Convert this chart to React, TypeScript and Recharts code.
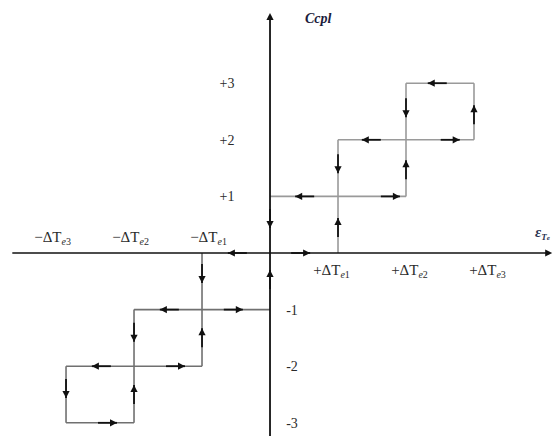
import { ComposedChart, XAxis, YAxis, ReferenceLine, Scatter } from "recharts";

const W = 556;
const H = 436;

// error axis (x) and coupling level (y), fixed so both axes cross in the middle
const X_DOMAIN: [number, number] = [-3.971, 4.206];
const Y_DOMAIN: [number, number] = [-3.233, 4.47];

// hysteresis loop edges as [x1, y1, x2, y2]
const upperLoop = [
  [0, 1, 2, 1],
  [1, 0, 1, 2],
  [2, 1, 2, 3],
  [1, 2, 3, 2],
  [3, 2, 3, 3],
  [2, 3, 3, 3],
];
const lowerLoop = [
  [-2, -1, 0, -1],
  [-1, 0, -1, -2],
  [-2, -1, -2, -3],
  [-3, -2, -1, -2],
  [-3, -2, -3, -3],
  [-3, -3, -2, -3],
];

// direction arrows along the loops (tip position + heading)
const upperArrows = [
  { x: 0.37, y: 1, dir: "l" },
  { x: 1.91, y: 1, dir: "r" },
  { x: 1, y: 0.62, dir: "u" },
  { x: 1, y: 1.41, dir: "d" },
  { x: 2, y: 1.64, dir: "u" },
  { x: 2, y: 2.4, dir: "d" },
  { x: 1.35, y: 2, dir: "l" },
  { x: 2.79, y: 2, dir: "r" },
  { x: 3, y: 2.61, dir: "u" },
  { x: 2.32, y: 3, dir: "l" },
];
const originArrows = [
  { x: 0, y: 0.44, dir: "d" },
  { x: -0.62, y: 0, dir: "l" },
  { x: 0.59, y: 0, dir: "r" },
  { x: 0, y: -0.3, dir: "u" },
];
const lowerArrows = [
  { x: -1, y: -0.53, dir: "d" },
  { x: -1.62, y: -1, dir: "l" },
  { x: -0.4, y: -1, dir: "r" },
  { x: -2, y: -1.57, dir: "d" },
  { x: -1, y: -1.33, dir: "u" },
  { x: -2.62, y: -2, dir: "l" },
  { x: -1.25, y: -2, dir: "r" },
  { x: -3, y: -2.56, dir: "d" },
  { x: -2, y: -2.33, dir: "u" },
  { x: -2.25, y: -3, dir: "r" },
];

// axis ends
const xAxisEnds = [-3.79, 4.15];
const yAxisEnds = [-3.233, 4.24];
const axisTips = [
  { x: xAxisEnds[1], y: 0, dir: "r" },
  { x: 0, y: yAxisEnds[1], dir: "u" },
];

// tick labels
const xTickValues = [-3, -2, -1, 1, 2, 3];
const xTickSubs = ["3", "2", "1", "1", "2", "3"];
const yTickValues = [3, 2, 1, -1, -2, -3];
const yTickTexts = ["+3", "+2", "+1", "-1", "-2", "-3"];

const xTicks = xTickValues.map((v, i) => ({ x: v, y: 0, sub: xTickSubs[i] }));
const yTicks = yTickValues.map((v, i) => ({ x: 0, y: v, text: yTickTexts[i] }));

const SERIF = "Liberation Serif, Times New Roman, serif";

function arrowShape(tail: number) {
  // eslint-disable-next-line @typescript-eslint/no-explicit-any
  return (p: any) => {
    const { cx, cy } = p;
    const dir = p.payload.dir;
    const hl = 7;
    const hw = 3.6;
    let head = "";
    let tx = cx;
    let ty = cy;
    if (dir === "l") {
      head = `${cx},${cy} ${cx + hl},${cy - hw} ${cx + hl},${cy + hw}`;
      tx = cx + hl + tail;
    } else if (dir === "r") {
      head = `${cx},${cy} ${cx - hl},${cy - hw} ${cx - hl},${cy + hw}`;
      tx = cx - hl - tail;
    } else if (dir === "u") {
      head = `${cx},${cy} ${cx - hw},${cy + hl} ${cx + hw},${cy + hl}`;
      ty = cy + hl + tail;
    } else {
      head = `${cx},${cy} ${cx - hw},${cy - hl} ${cx + hw},${cy - hl}`;
      ty = cy - hl - tail;
    }
    return (
      <g>
        {tail > 0 && (
          <line x1={cx} y1={cy} x2={tx} y2={ty} stroke="#111" strokeWidth={1.8} />
        )}
        <polygon points={head} fill="#111" />
      </g>
    );
  };
}

// labels sit a little wider apart than the ticks they name
// eslint-disable-next-line @typescript-eslint/no-explicit-any
function XTickLabel(p: any) {
  const { cx, cy, payload } = p;
  const v = payload.x;
  const neg = v < 0;
  const dx = Math.sign(v) * (10 * Math.abs(v) - 16.5);
  return (
    <text
      x={cx + dx}
      y={neg ? cy - 11 : cy + 22}
      textAnchor="middle"
      fontFamily={SERIF}
      fontSize={15}
      fill="#2a2a2a"
    >
      {neg ? "\u2212" : "+"}ΔT
      <tspan fontSize={10} dy={3} fontStyle="italic">e</tspan>
      <tspan fontSize={10}>{payload.sub}</tspan>
    </text>
  );
}

// eslint-disable-next-line @typescript-eslint/no-explicit-any
function YTickLabel(p: any) {
  const { cx, cy, payload } = p;
  const neg = payload.y < 0;
  return (
    <text
      x={neg ? cx + 22 : cx - 43}
      y={cy + 5}
      textAnchor="middle"
      fontFamily={SERIF}
      fontSize={14}
      fill="#2a2a2a"
    >
      {payload.text}
    </text>
  );
}

function edgeLines(edges: number[][], color: string) {
  return edges.map((e, i) => (
    <ReferenceLine
      key={color + i}
      segment={[
        { x: e[0], y: e[1] },
        { x: e[2], y: e[3] },
      ]}
      stroke={color}
      strokeWidth={1.6}
    />
  ));
}

export default function App() {
  return (
    <div style={{ position: "absolute", left: 0, top: 0, background: "#fff" }}>
      <ComposedChart width={W} height={H} margin={{ top: 0, right: 0, bottom: 0, left: 0 }}>
        <XAxis dataKey="x" type="number" domain={X_DOMAIN} allowDataOverflow hide />
        <YAxis dataKey="y" type="number" domain={Y_DOMAIN} allowDataOverflow hide />
        {edgeLines(upperLoop, "#9a9a9a")}
        {edgeLines(lowerLoop, "#707070")}
        <ReferenceLine
          segment={[
            { x: xAxisEnds[0], y: 0 },
            { x: xAxisEnds[1] - 0.08, y: 0 },
          ]}
          stroke="#111"
          strokeWidth={1.6}
        />
        <ReferenceLine
          segment={[
            { x: 0, y: yAxisEnds[0] },
            { x: 0, y: yAxisEnds[1] - 0.1 },
          ]}
          stroke="#111"
          strokeWidth={1.8}
        />
        <Scatter data={upperArrows} shape={arrowShape(12)} isAnimationActive={false} />
        <Scatter data={lowerArrows} shape={arrowShape(12)} isAnimationActive={false} />
        <Scatter data={originArrows} shape={arrowShape(12)} isAnimationActive={false} />
        <Scatter data={axisTips} shape={arrowShape(0)} isAnimationActive={false} />
        <Scatter data={xTicks} shape={XTickLabel} isAnimationActive={false} />
        <Scatter data={yTicks} shape={YTickLabel} isAnimationActive={false} />
      </ComposedChart>
      <div
        style={{
          position: "absolute",
          left: 305,
          top: 11,
          fontFamily: SERIF,
          fontSize: 14,
          fontWeight: "bold",
          fontStyle: "italic",
          color: "#1c1c3c",
        }}
      >
        Ccpl
      </div>
      <div
        style={{
          position: "absolute",
          left: 535,
          top: 224,
          fontFamily: SERIF,
          fontSize: 15,
          fontWeight: "bold",
          fontStyle: "italic",
          color: "#2a3552",
          whiteSpace: "nowrap",
        }}
      >
        ε
        <span style={{ fontSize: 9, verticalAlign: "-3px" }}>
          T<span style={{ fontSize: 7 }}>e</span>
        </span>
      </div>
    </div>
  );
}
